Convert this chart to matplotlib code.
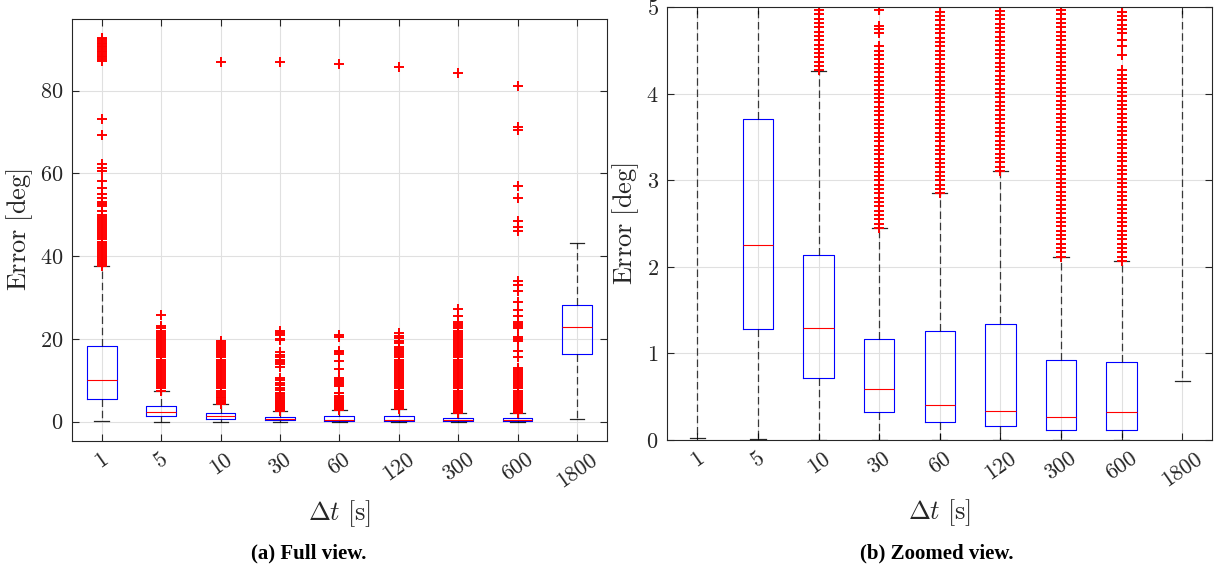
import matplotlib
matplotlib.use('Agg')
import matplotlib.pyplot as plt

plt.rcParams['font.family'] = 'serif'
plt.rcParams['font.serif'] = ['cmr10']
plt.rcParams['mathtext.fontset'] = 'cm'
plt.rcParams['axes.formatter.use_mathtext'] = True

# categories (time step) and box statistics, error in degrees
dt_labels = ['1', '5', '10', '30', '60', '120', '300', '600', '1800']
q1 = [5.4, 1.28, 0.72, 0.32, 0.21, 0.16, 0.11, 0.11, 16.4]
med = [10.1, 2.25, 1.29, 0.59, 0.40, 0.34, 0.27, 0.32, 22.8]
q3 = [18.2, 3.71, 2.14, 1.17, 1.26, 1.34, 0.92, 0.90, 28.2]
whis_lo = [0.02, 0.01, 0.0, 0.0, 0.0, 0.0, 0.0, 0.0, 0.68]
whis_hi = [37.5, 7.5, 4.26, 2.45, 2.85, 3.11, 2.12, 2.07, 43.1]

# outliers
fl_1 = [37.5, 38, 38.5, 39, 39.5, 40, 40.5, 41, 41.5, 42, 42.5, 43, 43.5, 44, 44.5,
        45, 45.5, 46, 46.5, 47, 47.5, 48, 48.5, 49, 49.5, 50, 51, 52, 52.5, 53, 54,
        55, 56.5, 58.2, 60.5, 61.3, 62.2, 69.2, 73.0,
        87.2, 87.6, 88.0, 88.4, 88.8, 89.2, 89.6, 90.0, 90.4, 90.8, 91.2, 91.6,
        92.0, 92.4, 92.8]
fl_5 = [7.5, 8, 8.5, 9, 9.5, 10, 10.5, 11, 11.5, 12, 12.5, 13, 13.5, 14, 14.5, 15,
        15.5, 16, 16.5, 17, 17.5, 18, 18.5, 19, 19.5, 20, 20.5, 21, 21.5, 22, 22.5,
        23.2, 25.7]
fl_10 = [4.27, 4.32, 4.37, 4.42, 4.47, 4.52, 4.57, 4.62, 4.67, 4.72, 4.77, 4.82,
         4.87, 4.92, 4.97, 5.2, 5.6, 6.0, 6.5, 7, 7.5, 8, 8.5, 9, 9.5, 10, 10.5, 11,
         11.5, 12, 12.5, 13, 13.5, 14, 14.5, 15, 15.5, 16, 16.5, 17, 17.5, 18, 18.5,
         19, 19.5, 87.0]
fl_30 = [2.45, 2.50, 2.55, 2.60, 2.65, 2.70, 2.75, 2.80, 2.85, 2.90, 2.95, 3.00,
         3.05, 3.10, 3.15, 3.20, 3.25, 3.30, 3.35, 3.40, 3.45, 3.50, 3.55, 3.60,
         3.65, 3.70, 3.75, 3.80, 3.85, 3.90, 3.95, 4.00, 4.05, 4.10, 4.15, 4.20,
         4.25, 4.30, 4.35, 4.40, 4.45, 4.50, 4.55, 4.70, 4.75, 4.78, 4.97,
         5.3, 5.7, 6.1, 6.6, 7.0, 7.7, 8.2, 8.8, 9.4, 10.0, 10.6, 13.3, 13.8, 14.5,
         15.0, 15.6, 16.2, 16.7, 19.6, 20.0, 21.0, 21.5, 22.0, 86.9]
fl_60 = [2.85, 2.90, 2.95, 3.00, 3.05, 3.10, 3.15, 3.20, 3.25, 3.30, 3.35, 3.40,
         3.45, 3.50, 3.55, 3.60, 3.65, 3.70, 3.75, 3.80, 3.85, 3.90, 3.95, 4.00,
         4.05, 4.10, 4.15, 4.20, 4.25, 4.30, 4.35, 4.40, 4.45, 4.50, 4.55, 4.60,
         4.65, 4.70, 4.75, 4.80, 4.85, 4.90, 4.95,
         5.3, 5.8, 6.3, 6.8, 7.0, 8.5, 9.0, 9.5, 10.0, 10.6, 12.6, 14.6, 16.4, 16.8,
         17.1, 20.5, 20.9, 86.4]
fl_120 = [3.11, 3.16, 3.21, 3.26, 3.31, 3.36, 3.41, 3.46, 3.51, 3.56, 3.61, 3.66,
          3.71, 3.76, 3.81, 3.86, 3.91, 3.96, 4.01, 4.06, 4.11, 4.16, 4.21, 4.26,
          4.31, 4.36, 4.41, 4.46, 4.51, 4.56, 4.61, 4.66, 4.71, 4.76, 4.81, 4.86,
          4.91, 4.96, 5.5, 6, 6.5, 7, 7.5, 8, 8.5, 9, 9.5, 10, 10.5, 11, 11.5, 12,
          12.5, 13, 13.5, 14, 14.5, 15, 15.5, 16, 16.5, 17, 17.5, 18, 19.0, 19.5,
          20.3, 20.8, 21.4, 85.7]
fl_300 = [2.12, 2.17, 2.22, 2.27, 2.32, 2.37, 2.42, 2.47, 2.52, 2.57, 2.62, 2.67,
          2.72, 2.77, 2.82, 2.87, 2.92, 2.97, 3.02, 3.07, 3.12, 3.17, 3.22, 3.27,
          3.32, 3.37, 3.42, 3.47, 3.52, 3.57, 3.62, 3.67, 3.72, 3.77, 3.82, 3.87,
          3.92, 3.97, 4.02, 4.07, 4.12, 4.17, 4.22, 4.27, 4.32, 4.37, 4.42, 4.47,
          4.52, 4.57, 4.62, 4.67, 4.72, 4.77, 4.82, 4.87, 4.92, 4.97,
          5.5, 6, 6.5, 7, 7.5, 8, 8.5, 9, 9.5, 10, 10.5, 11, 11.5, 12, 12.5, 13,
          13.5, 14, 14.5, 15, 15.5, 16, 16.5, 17, 17.5, 18, 18.5, 19, 19.5, 20,
          20.5, 21, 21.5, 22, 22.5, 23, 23.5, 24.0, 25.5, 27.2, 84.2]
fl_600 = [2.07, 2.12, 2.17, 2.22, 2.27, 2.32, 2.37, 2.42, 2.47, 2.52, 2.57, 2.62,
          2.67, 2.72, 2.77, 2.82, 2.87, 2.92, 2.97, 3.02, 3.07, 3.12, 3.17, 3.22,
          3.27, 3.32, 3.37, 3.42, 3.47, 3.52, 3.57, 3.62, 3.67, 3.72, 3.77, 3.82,
          3.87, 3.92, 3.97, 4.02, 4.07, 4.12, 4.17, 4.22, 4.27, 4.45, 4.55, 4.62,
          4.70, 4.75, 4.80, 4.85, 4.90, 4.95,
          5.5, 6, 6.5, 7, 7.5, 8, 8.5, 9, 9.5, 10, 10.5, 11, 11.5, 12, 12.5, 13,
          15.5, 17.0, 19.5, 20.0, 20.5, 22.5, 23.0, 23.5, 24.0, 25.5, 27.0, 29.0,
          31.5, 33.0, 34.0, 46.0, 47.0, 48.5, 54.0, 57.0, 70.5, 71.3, 81.0]
fl_1800 = []
fliers = [fl_1, fl_5, fl_10, fl_30, fl_60, fl_120, fl_300, fl_600, fl_1800]

stats = []
for i in range(len(dt_labels)):
    stats.append({'q1': q1[i], 'med': med[i], 'q3': q3[i],
                  'whislo': whis_lo[i], 'whishi': whis_hi[i],
                  'fliers': fliers[i]})

fig = plt.figure(figsize=(12.24, 5.75), dpi=100)
ax_full = fig.add_axes([0.0588, 0.233, 0.4369, 0.7348])
ax_zoom = fig.add_axes([0.545, 0.2348, 0.4456, 0.7525])

txt_col = '0.15'


def draw(ax, ylim, yticks):
    ax.bxp(stats, positions=range(1, 10), widths=0.5, capwidths=0.25,
           boxprops=dict(color='blue', lw=0.8),
           medianprops=dict(color='red', lw=0.8),
           whiskerprops=dict(color='black', lw=0.9, alpha=0.75,
                             linestyle=(0, (6, 3))),
           capprops=dict(color='black', lw=0.9, alpha=0.85),
           flierprops=dict(marker='+', markeredgecolor='red', markersize=7,
                           markeredgewidth=1.4, linestyle='none'))
    ax.set_xlim(0.5, 9.5)
    ax.set_ylim(*ylim)
    ax.set_yticks(yticks)
    ax.set_xticks(range(1, 10))
    ax.set_xticklabels(dt_labels, rotation=35, ha='center')
    ax.grid(True, color='0.88', lw=0.8)
    ax.set_axisbelow(True)
    ax.tick_params(direction='in', top=True, right=True, length=5,
                   width=0.8, labelsize=16, colors=txt_col, pad=6)
    for s in ax.spines.values():
        s.set_color(txt_col)
        s.set_linewidth(0.8)
    ax.set_ylabel(r'$\mathrm{Error}\ [\mathrm{deg}]$', fontsize=19,
                  color=txt_col, labelpad=4)
    ax.set_xlabel(r'$\Delta t\ [\mathrm{s}]$', fontsize=19,
                  color=txt_col, labelpad=5)


draw(ax_full, (-4.7, 97.4), [0, 20, 40, 60, 80])
draw(ax_zoom, (0, 5), [0, 1, 2, 3, 4, 5])

fig.text(0.252, 0.038, '(a) Full view.', ha='center', va='center',
         family=['Liberation Serif', 'DejaVu Serif'], weight='bold', fontsize=15)
fig.text(0.765, 0.038, '(b) Zoomed view.', ha='center', va='center',
         family=['Liberation Serif', 'DejaVu Serif'], weight='bold', fontsize=15)

fig.savefig('out.png', dpi=100)
